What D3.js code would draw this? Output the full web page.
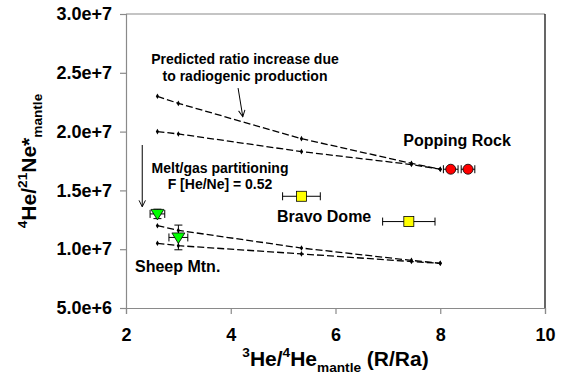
<!DOCTYPE html>
<html>
<head>
<meta charset="utf-8">
<script src="https://cdn.jsdelivr.net/npm/d3@7"></script>
<style>
  body { margin: 0; background: #fff; }
  svg text { font-family: "Liberation Sans", Arial, sans-serif; font-weight: bold; }
</style>
</head>
<body>
<svg id="chart" width="563" height="380"></svg>
<script>
// axis ticks
var xTicks = [2, 4, 6, 8, 10];
var yTicks = [5e6, 1e7, 1.5e7, 2e7, 2.5e7, 3e7];
var yTickLabels = ["5.0e+6", "1.0e+7", "1.5e+7", "2.0e+7", "2.5e+7", "3.0e+7"];

// model curves (radiogenic production), [R/Ra, 4He/21Ne*]
var upperA = [[2.6, 2.3e7], [3.0, 2.24e7], [5.35, 1.94e7], [7.45, 1.73e7], [8.0, 1.68e7]];
var upperB = [[2.6, 2.0e7], [3.0, 1.98e7], [5.35, 1.83e7], [7.45, 1.72e7], [8.0, 1.68e7]];
var lowerA = [[2.6, 1.2e7], [3.0, 1.16e7], [5.35, 1.01e7], [7.45, 9.05e6], [8.0, 8.8e6]];
var lowerB = [[2.6, 1.05e7], [3.0, 1.03e7], [5.35, 9.6e6], [7.45, 8.95e6], [8.0, 8.8e6]];

// samples: x, y, x error, y error
var poppingRock = [[8.2, 1.68e7, 0.14, 0], [8.53, 1.68e7, 0.13, 0]];
var bravoDome = [[5.35, 1.45e7, 0.36, 0], [7.4, 1.235e7, 0.5, 0]];
var sheepMtn = [[2.6, 1.3e7, 0.14, 4e5], [3.0, 1.1e7, 0.18, 1.05e6]];

(function() {
var svg = d3.select("#chart");
var mLeft = 126, mRight = 545, mTop = 14, mBottom = 308;

var x = d3.scaleLinear().domain([2, 10]).range([mLeft, mRight]);
var y = d3.scaleLinear().domain([5e6, 3e7]).range([mBottom, mTop]);

// frame: top grey, right black
svg.append("line").attr("x1", mLeft).attr("x2", mRight).attr("y1", mTop).attr("y2", mTop)
  .attr("stroke", "#8a8a8a").attr("stroke-width", 1.2);
svg.append("line").attr("x1", mRight).attr("x2", mRight).attr("y1", mTop).attr("y2", mBottom)
  .attr("stroke", "#000").attr("stroke-width", 1.2);

var gx = svg.append("g").attr("transform", "translate(0," + mBottom + ")")
  .call(d3.axisBottom(x).tickValues(xTicks).tickSize(6).tickPadding(14).tickFormat(d3.format("d")));
var gy = svg.append("g").attr("transform", "translate(" + mLeft + ",0)")
  .call(d3.axisLeft(y).tickValues(yTicks).tickSize(6).tickPadding(8)
    .tickFormat(function(d, i) { return yTickLabels[i]; }));

[gx, gy].forEach(function(g) {
  g.select(".domain").attr("stroke", "#8a8a8a").attr("stroke-width", 1.2);
  g.selectAll(".tick line").attr("stroke", "#8a8a8a").attr("stroke-width", 1.2);
  g.selectAll(".tick text").attr("fill", "#000").style("font-size", "18px")
    .style("font-family", "'Liberation Sans', Arial, sans-serif").style("font-weight", "bold");
});

// arrow head marker
svg.append("defs").append("marker")
  .attr("id", "head").attr("viewBox", "0 0 10 10").attr("refX", 9).attr("refY", 5)
  .attr("markerWidth", 8).attr("markerHeight", 8).attr("orient", "auto")
  .attr("markerUnits", "userSpaceOnUse")
  .append("path").attr("d", "M1,1 L9,5 L1,9").attr("fill", "none").attr("stroke", "#000").attr("stroke-width", 1.2);

var line = d3.line().x(function(d) { return x(d[0]); }).y(function(d) { return y(d[1]); });

[upperA, upperB, lowerA, lowerB].forEach(function(s) {
  svg.append("path").datum(s).attr("d", line)
    .attr("fill", "none").attr("stroke", "#000").attr("stroke-width", 1.3)
    .attr("stroke-dasharray", "7,3");
  svg.append("g").selectAll("path").data(s).join("path")
    .attr("transform", function(d) { return "translate(" + x(d[0]) + "," + y(d[1]) + ")"; })
    .attr("d", d3.symbol().type(d3.symbolDiamond).size(9))
    .attr("fill", "#000");
});

function errorBars(data) {
  var g = svg.append("g").attr("stroke", "#000").attr("stroke-width", 1);
  data.forEach(function(d) {
    var cx = x(d[0]), cy = y(d[1]);
    if (d[2]) {
      var x0 = x(d[0] - d[2]), x1 = x(d[0] + d[2]);
      g.append("line").attr("x1", x0).attr("x2", x1).attr("y1", cy).attr("y2", cy);
      g.append("line").attr("x1", x0).attr("x2", x0).attr("y1", cy - 4).attr("y2", cy + 4);
      g.append("line").attr("x1", x1).attr("x2", x1).attr("y1", cy - 4).attr("y2", cy + 4);
    }
    if (d[3]) {
      var y0 = y(d[1] - d[3]), y1 = y(d[1] + d[3]);
      g.append("line").attr("x1", cx).attr("x2", cx).attr("y1", y0).attr("y2", y1);
      g.append("line").attr("x1", cx - 4).attr("x2", cx + 4).attr("y1", y0).attr("y2", y0);
      g.append("line").attr("x1", cx - 4).attr("x2", cx + 4).attr("y1", y1).attr("y2", y1);
    }
  });
}
errorBars(poppingRock);
errorBars(bravoDome);
errorBars(sheepMtn);

svg.append("g").selectAll("circle").data(poppingRock).join("circle")
  .attr("cx", function(d) { return x(d[0]); }).attr("cy", function(d) { return y(d[1]); })
  .attr("r", 5).attr("fill", "#ff0000").attr("stroke", "#000").attr("stroke-width", 0.8);

svg.append("g").selectAll("rect").data(bravoDome).join("rect")
  .attr("x", function(d) { return x(d[0]) - 5; }).attr("y", function(d) { return y(d[1]) - 5; })
  .attr("width", 10).attr("height", 10)
  .attr("fill", "#ffff00").attr("stroke", "#000").attr("stroke-width", 0.8);

svg.append("g").selectAll("path").data(sheepMtn).join("path")
  .attr("transform", function(d) { return "translate(" + x(d[0]) + "," + y(d[1]) + ")"; })
  .attr("d", "M-6.5,-4.5 L6.5,-4.5 L0,6 Z")
  .attr("fill", "#00ff00").attr("stroke", "#000").attr("stroke-width", 0.8);

// annotation arrows
svg.append("line").attr("x1", x(4.14)).attr("y1", y(2.37e7)).attr("x2", x(4.23)).attr("y2", y(2.127e7))
  .attr("stroke", "#000").attr("stroke-width", 1).attr("marker-end", "url(#head)");
svg.append("line").attr("x1", x(2.31)).attr("y1", y(1.886e7)).attr("x2", x(2.31)).attr("y2", y(1.361e7))
  .attr("stroke", "#000").attr("stroke-width", 1).attr("marker-end", "url(#head)");

function label(txt, px, py, size, anchor) {
  svg.append("text").attr("x", px).attr("y", py).attr("text-anchor", anchor || "middle")
    .style("font-size", size + "px").text(txt);
}
label("Predicted ratio increase due", 245, 64, 14);
label("to radiogenic production", 245, 81, 14);
label("Melt/gas partitioning", 220, 173, 14);
label("F [He/Ne] = 0.52", 220, 189, 14);
label("Popping Rock", 457, 146, 16);
label("Bravo Dome", 277, 222, 16, "start");
label("Sheep Mtn.", 135, 272, 16, "start");

// rich axis titles: superscripts and subscripts as shifted tspans
function richText(sel, parts, size) {
  var offset = 0;
  parts.forEach(function(p) {
    var want = p.sup ? -size * 0.42 : (p.sub ? size * 0.28 : 0);
    sel.append("tspan").text(p.t)
      .style("font-size", ((p.sup || p.sub) ? size * 0.65 : size) + "px")
      .attr("dy", want - offset);
    offset = want;
  });
}

var xt = svg.append("text").attr("x", (mLeft + mRight) / 2).attr("y", 366).attr("text-anchor", "middle");
richText(xt, [{t: "3", sup: true}, {t: "He/"}, {t: "4", sup: true}, {t: "He"}, {t: "mantle", sub: true}, {t: " (R/Ra)"}], 21);

var yt = svg.append("text").attr("transform", "translate(36," + ((mTop + mBottom) / 2) + ") rotate(-90)")
  .attr("text-anchor", "middle");
richText(yt, [{t: "4", sup: true}, {t: "He/"}, {t: "21", sup: true}, {t: "Ne*"}, {t: "mantle", sub: true}], 21);
})();
</script>
</body>
</html>
